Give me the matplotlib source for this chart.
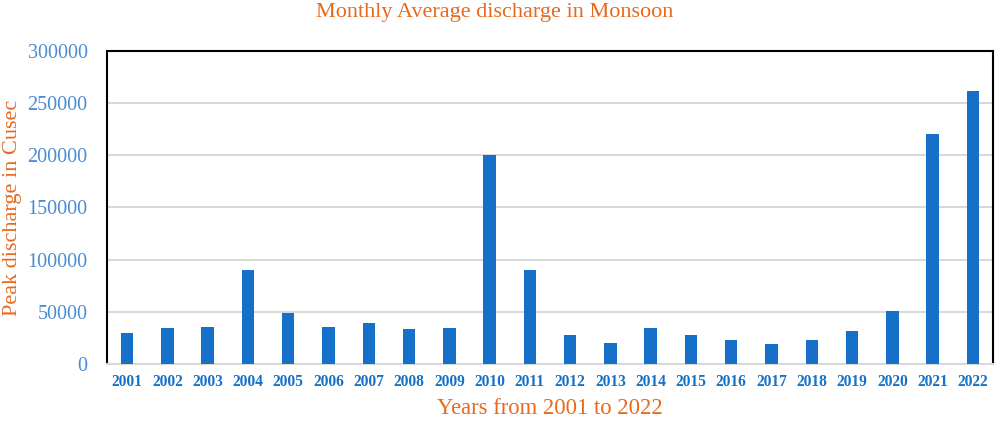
import numpy as np
import matplotlib.pyplot as plt

years = [str(y) for y in range(2001, 2023)]
discharge = [30000, 34200, 35100, 90000, 48600, 35100, 39000, 33200, 34200, 200000,
             90000, 27800, 19800, 34200, 27800, 22700, 18900, 22700, 31900, 50500,
             220600, 261800]
yticks = [0, 50000, 100000, 150000, 200000, 250000, 300000]

orange = '#E8691E'
blue = '#4A8BD6'
bar_blue = '#1570C8'

plt.rcParams['font.family'] = ['Liberation Serif', 'DejaVu Serif']

fig = plt.figure(figsize=(9.96, 4.21), dpi=100)
ax = fig.add_axes([0.1074, 0.1354, 0.8896, 0.7435])

x = np.arange(len(years))
ax.bar(x, discharge, width=0.31, color=bar_blue, zorder=3)

ax.set_xlim(-0.5, len(years) - 0.5)
ax.set_ylim(0, 300000)
ax.set_yticks(yticks)
ax.set_yticklabels([str(v) for v in yticks], color=blue, fontsize=14.5)
ax.set_xticks(x)
ax.set_xticklabels(years, color=bar_blue, fontsize=11.2, fontweight='bold')
ax.tick_params(axis='x', length=0, pad=7)
ax.tick_params(axis='y', length=0, pad=14)

ax.yaxis.grid(True, color='#D9D9D9', linewidth=1.5, zorder=0)
for s in ['left', 'top', 'right']:
    ax.spines[s].set_color('black')
    ax.spines[s].set_linewidth(1.5)
ax.spines['bottom'].set_color('#D9D9D9')
ax.spines['bottom'].set_linewidth(1.5)

ax.set_xlabel('Years from 2001 to 2022', color=orange, fontsize=16.3, labelpad=6)
ax.set_ylabel('Peak discharge in Cusec', color=orange, fontsize=16, labelpad=4)
fig.text(0.497, 0.971, 'Monthly Average discharge in Monsoon', color=orange,
         fontsize=16, ha='center', va='center')

fig.savefig('out.png', dpi=100)
